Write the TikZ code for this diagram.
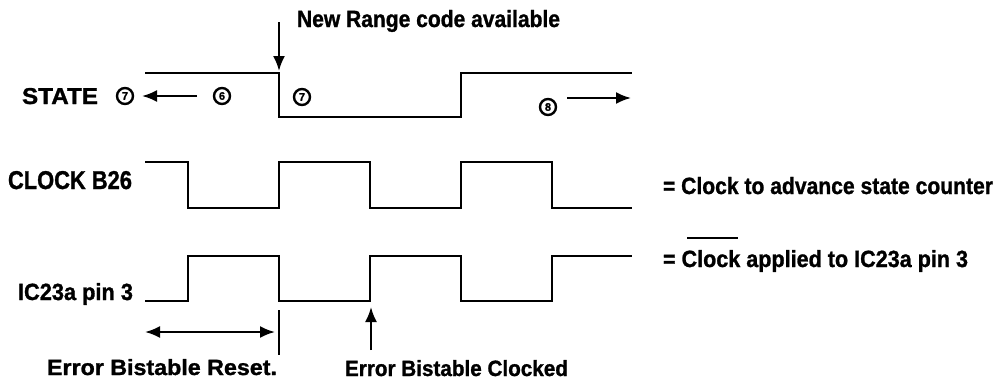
\documentclass[tikz,border=0pt]{standalone}
\usepackage{fontspec}
\setmainfont{Liberation Sans}[BoldFeatures={FakeBold=1.2}]
\usetikzlibrary{arrows.meta}
\newcommand\fitbox[3]{\resizebox{#1pt}{#2pt}{\bfseries #3}}
\begin{document}
\begin{tikzpicture}[x=1pt,y=-1pt,
  wave/.style={line width=2.2pt, line join=miter},
  lbl/.style={anchor=base west, inner sep=0pt, outer sep=0pt},
  arr/.style={line width=2.2pt, -{Latex[length=15pt,width=12pt]}},
  darr/.style={line width=2.2pt, {Latex[length=15pt,width=12pt]}-{Latex[length=15pt,width=12pt]}},
  tick/.style={line width=1.8pt},
  cnum/.style={circle, draw, line width=2.4pt, minimum size=16pt, inner sep=0pt, font=\bfseries\fontsize{11}{11}\selectfont}]
\useasboundingbox (0,0) rectangle (998,386);

% waveforms
\draw[wave] (145,73) -- (279,73) -- (279,117) -- (461,117) -- (461,73) -- (632,73);
\draw[wave] (145,162) -- (188,162) -- (188,208) -- (279,208) -- (279,162) -- (370,162) -- (370,208) -- (461,208) -- (461,162) -- (552,162) -- (552,208) -- (632,208);
\draw[wave] (145,301) -- (188,301) -- (188,256) -- (279,256) -- (279,301) -- (370,301) -- (370,256) -- (461,256) -- (461,301) -- (552,301) -- (552,256) -- (632,256);

% labels
\node[lbl] (hdr) at (297,27) {\fitbox{263}{17}{New Range code available}};
\node[lbl] (state) at (22,104) {\fitbox{76}{16}{STATE}};
\node[lbl] (clk) at (8,189) {\fitbox{124}{18}{CLOCK B26}};
\node[lbl] (ic) at (18,300) {\fitbox{115}{17}{IC23a pin 3}};
\node[lbl] (adv) at (663,194) {\fitbox{330}{17}{= Clock to advance state counter}};
\node[lbl] (app) at (663,267) {\fitbox{305}{17}{= Clock applied to IC23a pin 3}};
\node[lbl] (rst) at (47,375) {\fitbox{230}{16}{Error Bistable Reset.}};
\node[lbl] (clkd) at (345,376) {\fitbox{223}{16}{Error Bistable Clocked}};
\coordinate (ovl) at (687,238);
\coordinate (ovr) at (738,238);
\draw[line width=2pt] (ovl) -- (ovr);

% circled state numbers
\node[cnum] (c7a) at (125,96) {7};
\node[cnum] (c6) at (222,96) {6};
\node[cnum] (c7b) at (302,97) {7};
\node[cnum] (c8) at (548,107) {8};

% arrows
\coordinate (la) at (197,96);
\coordinate (lb) at (142,96);
\draw[arr] (la) -- (lb);
\coordinate (ra) at (567,98);
\coordinate (rb) at (631,98);
\draw[arr] (ra) -- (rb);
\coordinate (da) at (279,22);
\coordinate (db) at (279,71);
\draw[arr] (da) -- (db);
\coordinate (ha) at (145,332);
\coordinate (hb) at (275,332);
\draw[darr] (ha) -- (hb);
\coordinate (ta) at (279,310);
\coordinate (tb) at (279,355);
\draw[tick] (ta) -- (tb);
\coordinate (ua) at (371,350);
\coordinate (ub) at (371,307);
\draw[arr] (ua) -- (ub);
\end{tikzpicture}
\end{document}
